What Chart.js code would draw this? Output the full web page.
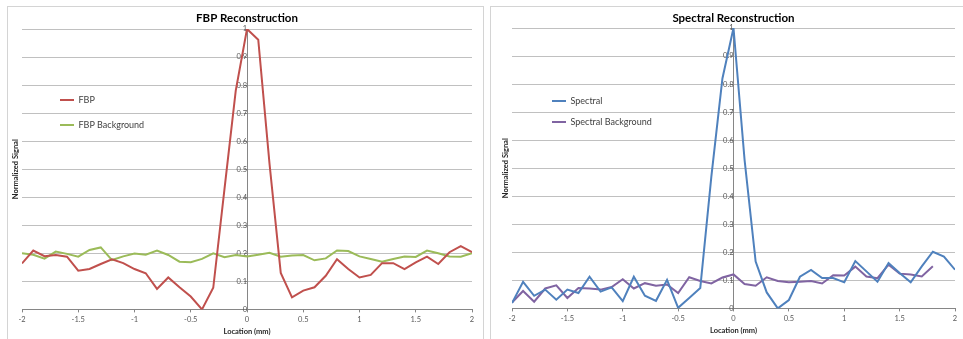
<!DOCTYPE html>
<html>
<head>
<meta charset="utf-8">
<script src="https://cdn.jsdelivr.net/npm/chart.js@4/dist/chart.umd.min.js"></script>
<style>
  html, body { margin: 0; padding: 0; background: #fff; width: 963px; height: 339px; overflow: hidden; }
  .panel { position: absolute; top: 6px; height: 340px; border: 1px solid #d4d4d4; background: #fff; }
  #p1 { left: 7px; width: 475px; }
  #p2 { left: 490px; width: 480px; }
  canvas { position: absolute; left: 0; top: 0; }
</style>
</head>
<body>
<div class="panel" id="p1"><canvas id="c1" width="475" height="332" style="width:475px;height:332px"></canvas></div>
<div class="panel" id="p2"><canvas id="c2" width="472" height="332" style="width:472px;height:332px"></canvas></div>
<script>
// Sample locations along the profile (mm)
const locations = [
  -2.0, -1.9, -1.8, -1.7, -1.6, -1.5, -1.4, -1.3, -1.2, -1.1,
  -1.0, -0.9, -0.8, -0.7, -0.6, -0.5, -0.4, -0.3, -0.2, -0.1,
   0.0,  0.1,  0.2,  0.3,  0.4,  0.5,  0.6,  0.7,  0.8,  0.9,
   1.0,  1.1,  1.2,  1.3,  1.4,  1.5,  1.6,  1.7,  1.8,  1.9, 2.0
];

// Filtered back-projection profile and its background
const fbp = [
  0.164, 0.210, 0.190, 0.194, 0.188, 0.138, 0.144, 0.162, 0.179, 0.165,
  0.144, 0.129, 0.073, 0.114, 0.079, 0.046, 0.000, 0.077, 0.430, 0.780,
  1.000, 0.962, 0.520, 0.130, 0.043, 0.067, 0.079, 0.120, 0.179, 0.144,
  0.114, 0.123, 0.165, 0.165, 0.144, 0.168, 0.188, 0.162, 0.204, 0.226, 0.204
];
const fbpBackground = [
  0.200, 0.195, 0.181, 0.206, 0.198, 0.188, 0.212, 0.221, 0.176, 0.189,
  0.199, 0.195, 0.210, 0.194, 0.170, 0.168, 0.180, 0.200, 0.186, 0.194,
  0.189, 0.195, 0.202, 0.188, 0.192, 0.194, 0.175, 0.182, 0.210, 0.208,
  0.189, 0.180, 0.170, 0.180, 0.189, 0.187, 0.210, 0.200, 0.189, 0.188, 0.200
];

// Spectral reconstruction profile and its background (background stops at 1.8 mm)
const spectral = [
  0.019, 0.095, 0.045, 0.067, 0.031, 0.067, 0.055, 0.113, 0.060, 0.075,
  0.026, 0.113, 0.045, 0.027, 0.102, 0.002, 0.037, 0.073, 0.470, 0.820,
  1.000, 0.530, 0.167, 0.057, 0.000, 0.030, 0.113, 0.137, 0.108, 0.108,
  0.093, 0.169, 0.132, 0.095, 0.162, 0.126, 0.093, 0.150, 0.202, 0.185, 0.138
];
const spectralBackground = [
  0.021, 0.062, 0.024, 0.071, 0.082, 0.037, 0.073, 0.071, 0.067, 0.076,
  0.104, 0.071, 0.090, 0.081, 0.085, 0.055, 0.111, 0.098, 0.089, 0.110,
  0.121, 0.087, 0.081, 0.111, 0.098, 0.093, 0.095, 0.098, 0.089, 0.118,
  0.117, 0.149, 0.114, 0.108, 0.156, 0.124, 0.121, 0.114, 0.150
];

const FONT = "Lato, 'Open Sans', 'DejaVu Sans', sans-serif";
const AXIS_GREY = '#868686';
const GRID_GREY = '#c0c0c0';
const TEXT_GREY = '#595959';

const points = (values) => values.map((v, i) => ({ x: locations[i], y: v }));
const tickText = (v) => String(+v.toFixed(1));

// Places the legend block at a fixed spot inside the plot area
const legendPlacement = {
  id: 'legendPlacement',
  afterLayout(chart, args, opts) {
    const lg = chart.legend;
    if (!lg) return;
    const pad = lg.options.labels.padding;
    const fs = lg.options.labels.font.size;
    lg.left = opts.lineX - pad;
    lg.top = opts.firstY - fs / 2 - pad;
  }
};

// Rotated caption for the value axis
const valueCaption = {
  id: 'valueCaption',
  afterDraw(chart, args, opts) {
    const { ctx, chartArea } = chart;
    ctx.save();
    ctx.font = 'bold 7.5px ' + FONT;
    ctx.fillStyle = '#262626';
    ctx.textAlign = 'center';
    ctx.textBaseline = 'middle';
    ctx.translate(opts.x, (chartArea.top + chartArea.bottom) / 2);
    ctx.rotate(-Math.PI / 2);
    ctx.fillText(opts.text, 0, 0);
    ctx.restore();
  }
};

function drawPanel(canvasId, titleText, series, place) {
  return new Chart(document.getElementById(canvasId), {
    type: 'line',
    data: {
      datasets: series.map(s => ({
        label: s.label,
        data: points(s.values),
        borderColor: s.color,
        backgroundColor: s.color,
        borderWidth: 2,
        pointRadius: 0,
        pointHoverRadius: 0,
        tension: 0,
        fill: false
      }))
    },
    options: {
      responsive: false,
      animation: false,
      events: [],
      layout: { padding: place.padding },
      scales: {
        x: {
          type: 'linear',
          min: -2, max: 2,
          position: 'bottom',
          ticks: { stepSize: 0.5, color: TEXT_GREY, font: { family: FONT, size: 7.5 }, padding: 3, maxRotation: 0,
                   callback: tickText },
          grid: { drawOnChartArea: false, drawTicks: true, tickLength: 3, tickColor: AXIS_GREY },
          border: { color: AXIS_GREY, width: 1 },
          title: { display: true, text: 'Location (mm)', color: '#262626',
                   font: { family: FONT, size: 7.5, weight: 'bold' }, padding: { top: 0, bottom: 0 } }
        },
        y: {
          type: 'linear',
          min: 0, max: 1,
          position: { x: 0 },
          ticks: { stepSize: 0.1, color: TEXT_GREY, font: { family: FONT, size: 7.5 }, padding: 2,
                   callback: tickText },
          grid: { color: GRID_GREY, lineWidth: 1, drawTicks: true, tickLength: 3, tickColor: AXIS_GREY },
          border: { color: AXIS_GREY, width: 1 }
        }
      },
      plugins: {
        title: {
          display: true, text: titleText, color: '#000',
          font: { family: FONT, size: 11.5, weight: 'bold' },
          padding: place.titlePadding
        },
        legend: {
          position: 'chartArea',
          align: 'start',
          labels: {
            usePointStyle: true, pointStyle: 'line', pointStyleWidth: 14,
            color: '#404040', font: { family: FONT, size: 9 },
            padding: place.legendGap
          }
        },
        tooltip: { enabled: false },
        legendPlacement: { lineX: place.legendX, firstY: place.legendY },
        valueCaption: { x: place.captionX, text: 'Normalized Signal' }
      }
    },
    plugins: [legendPlacement, valueCaption]
  });
}

drawPanel('c1', 'FBP Reconstruction', [
  { label: 'FBP', values: fbp, color: '#C0504D' },
  { label: 'FBP Background', values: fbpBackground, color: '#9BBB59' }
], {
  padding: { left: 14, right: 11, top: 0, bottom: 2.6 },
  titlePadding: { top: 4.6, bottom: 3.6 },
  legendGap: 16, legendX: 52, legendY: 93, captionX: 8
});

drawPanel('c2', 'Spectral Reconstruction', [
  { label: 'Spectral', values: spectral, color: '#4F81BD' },
  { label: 'Spectral Background', values: spectralBackground, color: '#8064A2' }
], {
  padding: { left: 21, right: 8, top: 0, bottom: 3.6 },
  titlePadding: { top: 4.6, bottom: 2.6 },
  legendGap: 12, legendX: 61, legendY: 94, captionX: 15
});
</script>
</body>
</html>
